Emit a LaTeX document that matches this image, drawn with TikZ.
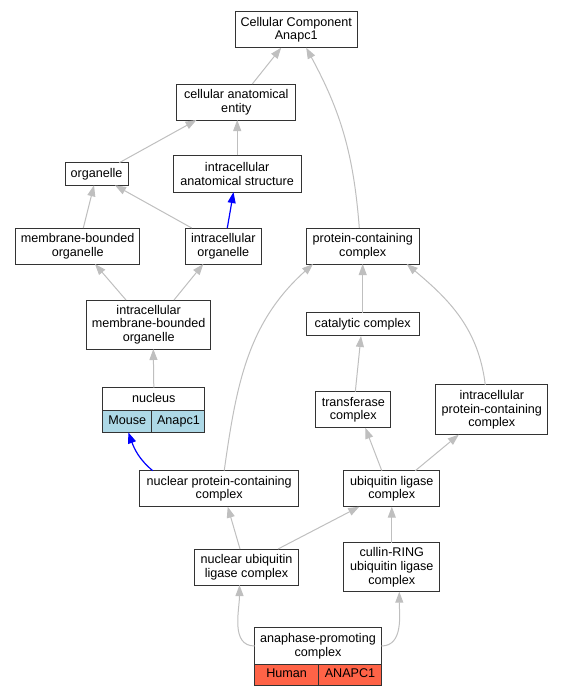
\documentclass[tikz,border=0pt]{standalone}
\usepackage{fontspec}
\setmainfont{Liberation Sans}
\usepackage{xcolor}
\usetikzlibrary{arrows.meta}
\definecolor{mouseblue}{HTML}{ADD8E6}
\definecolor{humanred}{HTML}{FF6347}
\tikzset{
  term/.style={draw=black!80, line width=1pt, fill=white, align=center, inner sep=0pt, outer sep=0pt,
    font=\fontsize{12.6}{13.7}\selectfont},
  field/.style={term, text height=9pt, text depth=2.6pt, anchor=north west},
  isa/.style={draw=black!25, line width=1pt, -{Triangle[length=11pt,width=8pt]}},
  partof/.style={draw=blue, line width=1.2pt, -{Triangle[length=11pt,width=8pt]}}
}
\begin{document}
\begin{tikzpicture}[x=1pt,y=1pt]
\useasboundingbox (0,0) rectangle (564,-696);
%\draw[help lines] (0,0) grid[step=50] (564,-696);
\node[term, minimum width=122.3pt, minimum height=36pt] (cc) at (296.2,-29.7) {Cellular Component\\Anapc1};
\node[term, minimum width=118.7pt, minimum height=36pt] (cae) at (236.3,-102) {cellular anatomical\\entity};
\node[term, minimum width=63pt, minimum height=22.6pt, text height=9pt, text depth=2.6pt] (org) at (96.5,-174) {organelle};
\node[term, minimum width=128.3pt, minimum height=36.7pt] (ias) at (237.2,-173.7) {intracellular\\anatomical structure};
\node[term, minimum width=124pt, minimum height=36pt] (mbo) at (77.7,-246) {membrane-bounded\\organelle};
\node[term, minimum width=76pt, minimum height=36pt] (io) at (223.3,-246) {intracellular\\organelle};
\node[term, minimum width=112.7pt, minimum height=36pt] (pcc) at (362.7,-246) {protein-containing\\complex};
\node[term, minimum width=124pt, minimum height=49pt] (imbo) at (148.7,-324.5) {intracellular\\membrane-bounded\\organelle};
\node[term, minimum width=112.7pt, minimum height=23.3pt, text height=9pt, text depth=2.6pt] (cat) at (362.7,-324.3) {catalytic complex};
% nucleus record
\node[term, minimum width=102.3pt, minimum height=22.6pt, text height=9pt, text depth=2.6pt] (nuc) at (153.8,-399) {nucleus};
\node[field, fill=mouseblue, minimum width=49.3pt, minimum height=22pt] (nucsp) at (nuc.south west) {Mouse};
\node[field, fill=mouseblue, minimum width=53pt, minimum height=22pt] (nucgene) at (nucsp.north east) {Anapc1};
\node[term, minimum width=75.3pt, minimum height=36pt] (tc) at (353.3,-409.7) {transferase\\complex};
\node[term, minimum width=112.3pt, minimum height=49.7pt] (ipcc) at (491.8,-409.8) {intracellular\\protein-containing\\complex};
\node[term, minimum width=159pt, minimum height=36pt] (npcc) at (219.2,-488.7) {nuclear protein-containing\\complex};
\node[term, minimum width=96.3pt, minimum height=36pt] (ulc) at (391.8,-488.7) {ubiquitin ligase\\complex};
\node[term, minimum width=104.4pt, minimum height=36pt] (nulc) at (246.5,-567) {nuclear ubiquitin\\ligase complex};
\node[term, minimum width=96.3pt, minimum height=49pt] (crl) at (391.8,-567.2) {cullin-RING\\ubiquitin ligase\\complex};
% anaphase-promoting complex record
\node[term, minimum width=126.6pt, minimum height=36.6pt] (apc) at (318,-646) {anaphase-promoting\\complex};
\node[field, fill=humanred, minimum width=64pt, minimum height=20.7pt] (apcsp) at (apc.south west) {Human};
\node[field, fill=humanred, minimum width=62.6pt, minimum height=20.7pt] (apcgene) at (apcsp.north east) {ANAPC1};

\draw[isa] ([xshift=16pt]cae.north) -- ([xshift=-15pt]cc.south);
\draw[isa] ([xshift=-3.4pt]pcc.north) to[bend right=12] ([xshift=10pt]cc.south);
\draw[isa] ([xshift=22.8pt]org.north) -- ([xshift=-39.8pt]cae.south);
\draw[isa] (ias.north) -- (ias.north |- cae.south);
\draw[isa] ([xshift=5.6pt]mbo.north) -- ([xshift=-2.5pt]org.south);
\draw[isa] ([xshift=-31.6pt]io.north) -- ([xshift=18.5pt]org.south);
\draw[partof] ([xshift=4pt]io.north) -- ([xshift=-3.7pt]ias.south);
\draw[isa] ([xshift=-22.7pt]imbo.north) -- ([xshift=17.3pt]mbo.south);
\draw[isa] ([xshift=25.3pt]imbo.north) -- ([xshift=-20pt]io.south);
\draw[isa] (nuc.north) -- ([xshift=4.6pt]imbo.south);
\draw[isa] (cat.north) -- (pcc.south);
\draw[isa] ([xshift=5pt]npcc.north) to[out=82,in=222] ([xshift=-49.7pt]pcc.south);
\draw[isa] ([xshift=2pt]tc.north) -- ([xshift=-1.7pt]cat.south);
\draw[isa] ([xshift=-6.5pt]ipcc.north) to[out=97,in=320] ([xshift=44pt]pcc.south);
\draw[partof] ([xshift=13pt]npcc.north west) to[out=140,in=-70] ([xshift=1pt]nucsp.south);
\draw[isa] ([xshift=-10pt]ulc.north) -- ([xshift=12pt]tc.south);
\draw[isa] ([xshift=23.5pt]ulc.north) -- ([xshift=-33pt]ipcc.south);
\draw[isa] ([xshift=-6.5pt]nulc.north) -- ([xshift=8.5pt]npcc.south);
\draw[isa] ([xshift=31.5pt]nulc.north) -- ([xshift=-32.5pt]ulc.south);
\draw[isa] (crl.north) -- (ulc.south);
\draw[isa] (apc.west) to[out=180,in=-90] ([xshift=-7pt]nulc.south);
\draw[isa] (apc.east) to[out=0,in=-90] ([xshift=7.5pt]crl.south);
\end{tikzpicture}
\end{document}
